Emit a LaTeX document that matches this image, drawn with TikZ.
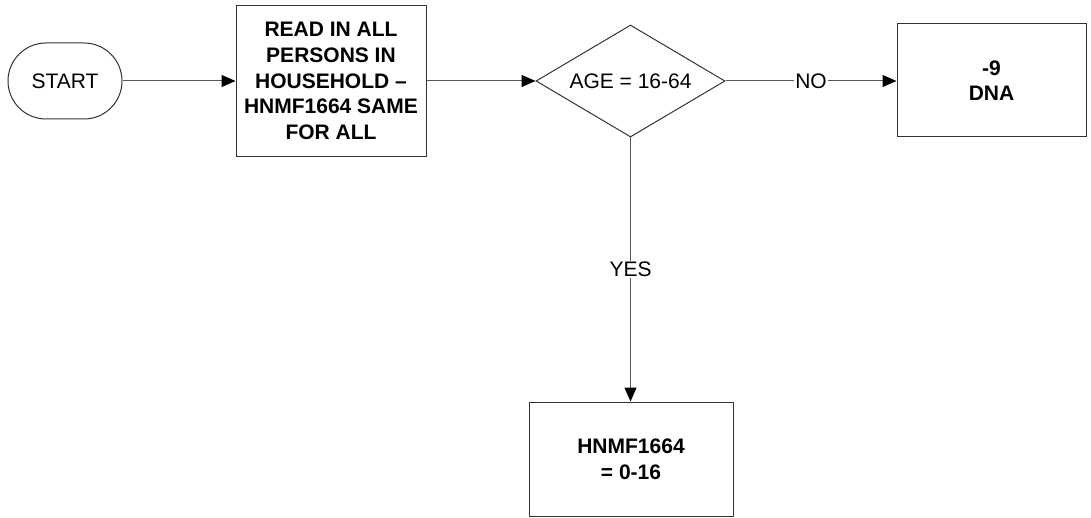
\documentclass[tikz,border=0pt]{standalone}
\usepackage{fontspec}
\setmainfont{Liberation Sans}
\usetikzlibrary{arrows.meta,shapes.geometric}
\begin{document}
\begin{tikzpicture}[x=1pt,y=-1pt,
  line width=1pt,
  every node/.style={font=\fontsize{21}{25.6}\selectfont},
  boxnode/.style={draw=black!80, rectangle, inner sep=0pt, align=center, font=\fontsize{21}{25.6}\selectfont\bfseries},
  startnode/.style={draw=black!80, rectangle, rounded corners=38pt, minimum width=114pt, minimum height=76pt, inner sep=0pt},
  decnode/.style={draw=black!80, diamond, aspect=1.6875, minimum width=189pt, minimum height=112pt, inner sep=0pt},
  conn/.style={draw=black!65, -{Triangle[length=14pt,width=12pt,fill=black,color=black]}},
  lbl/.style={fill=white, inner sep=1pt}
]
\useasboundingbox (0,0) rectangle (1091,518);
\node[startnode] (start) at (65,81) {START};
\node[boxnode, minimum width=190pt, minimum height=151pt] (read) at (331,81)
  {READ IN ALL\\PERSONS IN\\HOUSEHOLD –\\HNMF1664 SAME\\FOR ALL};
\node[decnode] (age) at (630.5,81) {AGE = 16-64};
\node[boxnode, minimum width=189pt, minimum height=113pt] (dna) at (991.5,80.5) {-9\\DNA};
\node[boxnode, minimum width=204pt, minimum height=114pt] (res) at (631,459) {HNMF1664\\= 0-16};
\draw[conn] (start.east) -- (start.east -| read.west);
\draw[conn] (read.east |- age.west) -- (age.west);
\draw[conn] (age.east) -- node[lbl] {NO} (dna.west |- age.east);
\draw[conn] (age.south) -- node[lbl, pos=0.50] {YES} (age.south |- res.north);
\end{tikzpicture}
\end{document}
